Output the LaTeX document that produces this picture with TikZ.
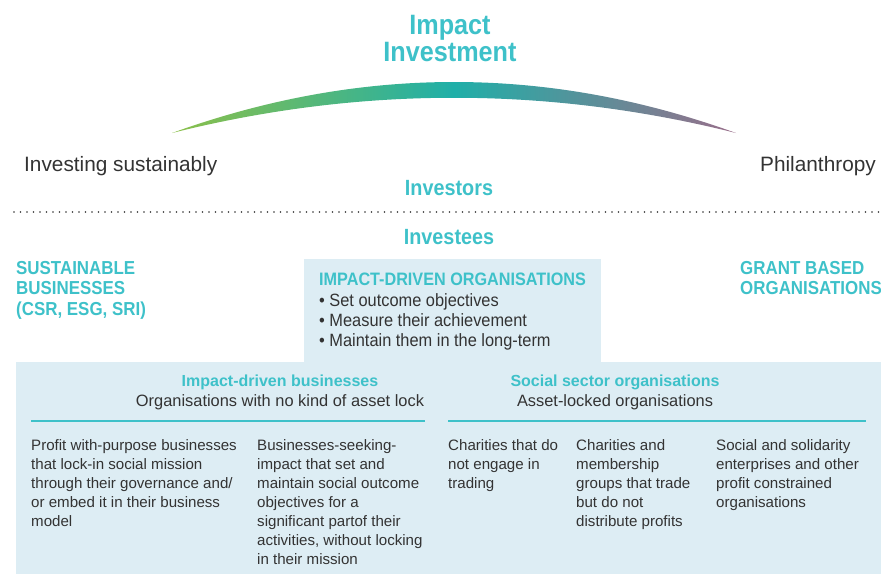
\documentclass[tikz,border=0pt]{standalone}
\usepackage{fontspec}
\setmainfont{Liberation Sans}
\newfontfamily\condb[FakeStretch=0.9]{Liberation Sans Bold}
\newfontfamily\condl[FakeStretch=0.92]{Liberation Sans}
\definecolor{teal}{HTML}{3EC1C9}
\definecolor{boxbg}{HTML}{DDEDF4}
\definecolor{txt}{HTML}{333333}
\definecolor{arcg}{HTML}{8CC04A}
\definecolor{arct}{HTML}{1FAFA8}
\definecolor{arcp}{HTML}{9A6E8A}
\tikzset{
  head/.style={text=teal, font=\condb\fontsize{28}{27}\selectfont, align=center, inner sep=0pt},
  sub/.style={text=teal, font=\condb\fontsize{22}{22}\selectfont, inner sep=0pt},
  cat/.style={text=teal, font=\condb\fontsize{18.8}{20.5}\selectfont, align=left, inner sep=0pt, anchor=north west},
  catc/.style={cat, font=\condb\fontsize{18}{20.5}\selectfont},
  side/.style={text=txt, font=\fontsize{20.8}{22}\selectfont, inner sep=0pt},
  secthead/.style={text=teal, font=\bfseries\fontsize{16}{17}\selectfont, inner sep=0pt},
  sectsub/.style={text=txt, font=\fontsize{16.4}{17}\selectfont, inner sep=0pt},
  body/.style={text=txt, font=\fontsize{15.1}{19}\selectfont, align=left, inner sep=0pt, anchor=north west},
  bullets/.style={text=txt, font=\condl\fontsize{17.8}{20}\selectfont, align=left, inner sep=0pt, anchor=north west},
  rule/.style={draw=teal, line width=1.3pt},
}
\begin{document}
\begin{tikzpicture}[x=1pt,y=-1pt]
\useasboundingbox (0,0) rectangle (881,574);
% title
\node[head] (title) at (450,39) {Impact\\Investment};
% arc
\shade[left color=arcg, right color=arcp, middle color=arct, shading angle=90]
  (172,133) .. controls (360,65) and (548,65) .. (736,133)
  .. controls (548,86) and (360,86) .. cycle;
\node[side, anchor=west] (left) at (24,166) {Investing sustainably};
\node[side, anchor=east] (right) at (876,166) {Philanthropy};
\node[sub] (investors) at (449,188) {Investors};
\coordinate (dl) at (14,212);
\coordinate (dr) at (881,212);
\draw[txt, line width=1.9pt, dash pattern=on 0pt off 6.5pt, line cap=round] (dl) -- (dr);
\node[sub] (investees) at (449,237) {Investees};
% boxes
\fill[boxbg] (304,259) rectangle (601,363);
\fill[boxbg] (16,362) rectangle (881,574);
% side categories
\node[cat] (sust) at (16,261) {SUSTAINABLE\\BUSINESSES\\(CSR, ESG, SRI)};
\node[cat] (grant) at (740,261) {GRANT BASED\\ORGANISATIONS};
% central
\node[catc] (idorg) at (319,273) {IMPACT-DRIVEN ORGANISATIONS};
\node[bullets] (bl) at (319,293) {\textbullet\ Set outcome objectives\\\textbullet\ Measure their achievement\\\textbullet\ Maintain them in the long-term};
% sections
\node[secthead] (idb) at (280,382) {Impact-driven businesses};
\node[sectsub] (idbs) at (280,402) {Organisations with no kind of asset lock};
\coordinate (l1a) at (31,421);
\coordinate (l1b) at (425,421);
\draw[rule] (l1a) -- (l1b);
\node[secthead] (sso) at (615,382) {Social sector organisations};
\node[sectsub] (ssos) at (615,402) {Asset-locked organisations};
\coordinate (l2a) at (448,421);
\coordinate (l2b) at (866,421);
\draw[rule] (l2a) -- (l2b);
% columns
\node[body] (c1) at (31,439) {Profit with-purpose businesses\\that lock-in social mission\\through their governance and/\\or embed it in their business\\model};
\node[body] (c2) at (257,439) {Businesses-seeking-\\impact that set and\\maintain social outcome\\objectives for a\\significant partof their\\activities, without locking\\in their mission};
\node[body] (c3) at (448,439) {Charities that do\\not engage in\\trading};
\node[body] (c4) at (576,439) {Charities and\\membership\\groups that trade\\but do not\\distribute profits};
\node[body] (c5) at (716,439) {Social and solidarity\\enterprises and other\\profit constrained\\organisations};
\end{tikzpicture}
\end{document}
